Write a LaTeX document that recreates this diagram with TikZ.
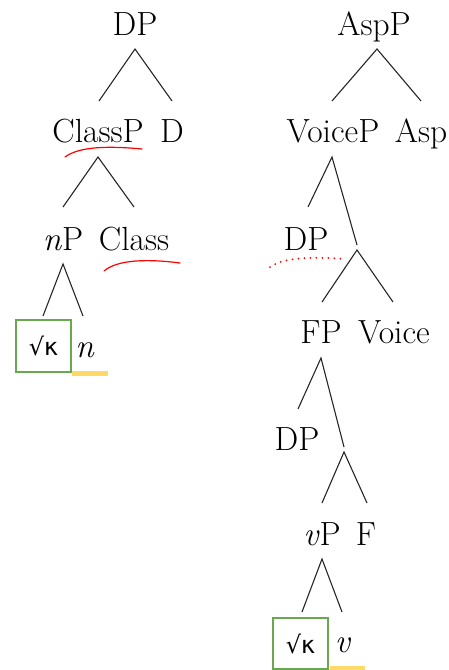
\documentclass[tikz,border=0pt]{standalone}
\usepackage{fontspec}
\newfontfamily\rootfont{DejaVu Sans}
\definecolor{boxgreen}{RGB}{106,168,79}
\definecolor{hlyellow}{RGB}{255,217,102}
\begin{document}
\begin{tikzpicture}[x=1pt,y=-1pt,
  lbl/.style={anchor=base,inner sep=0pt,font=\fontsize{33.5}{40}\selectfont},
  branch/.style={line width=1.1pt,black!85},
  rootbox/.style={draw=boxgreen,line width=1.2pt,rectangle,inner sep=0pt,
    minimum width=55pt,minimum height=52pt,font=\rootfont\fontsize{24}{28}\selectfont},
  mark red/.style={red,line width=1.2pt,line cap=round},
  dots red/.style={red,line width=2pt,line cap=round,dash pattern=on 0pt off 6pt},
  hl/.style={fill=hlyellow}]
\useasboundingbox (0,0) rectangle (449,670);

% ---- left tree: DP ----
\node[lbl] (dp) at (135,35) {DP};
\node[lbl] (classp) at (98,142) {ClassP};
\node[lbl] (d) at (172,142) {D};
\node[lbl] (np) at (63,250) {\textit{n}P};
\node[lbl] (class) at (134,250) {Class};
\node[rootbox] (rootL) at (43.5,346) {√κ};
\node[lbl] (n) at (85,357) {\textit{n}};

\coordinate (dpA) at (135,49);  \coordinate (dpL) at (99,101);  \coordinate (dpR) at (172,101);
\coordinate (clA) at (98,157);  \coordinate (clL) at (63,207);  \coordinate (clR) at (134,207);
\coordinate (npA) at (63,264);  \coordinate (npL) at (43,316);  \coordinate (npR) at (83,316);
\draw[branch] (dpL) -- (dpA) -- (dpR);
\draw[branch] (clL) -- (clA) -- (clR);
\draw[branch] (npL) -- (npA) -- (npR);

% ---- right tree: AspP ----
\node[lbl] (aspp) at (374,35) {AspP};
\node[lbl] (voicep) at (333,142) {VoiceP};
\node[lbl] (asp) at (421,142) {Asp};
\node[lbl] (dpa) at (306,250) {DP};
\node[lbl] (fp) at (321,343) {FP};
\node[lbl] (voice) at (394,343) {Voice};
\node[lbl] (dpb) at (297,450) {DP};
\node[lbl] (vp) at (322,545) {\textit{v}P};
\node[lbl] (f) at (366,545) {F};
\node[rootbox,minimum height=51pt] (rootR) at (300.5,643.5) {√κ};
\node[lbl] (v) at (343,652) {\textit{v}};

\coordinate (asA) at (377,49);  \coordinate (asL) at (332,101); \coordinate (asR) at (421,101);
\coordinate (vcA) at (332,157); \coordinate (vcL) at (308,207); \coordinate (vcR) at (357,245);
\coordinate (vbA) at (357,250); \coordinate (vbL) at (322,302); \coordinate (vbR) at (393,302);
\coordinate (fpA) at (321,358); \coordinate (fpL) at (298,409); \coordinate (fpR) at (344,447);
\coordinate (fbA) at (344,452); \coordinate (fbL) at (322,503); \coordinate (fbR) at (367,503);
\coordinate (vpA) at (322,559); \coordinate (vpL) at (302,612); \coordinate (vpR) at (342,612);
\draw[branch] (asL) -- (asA) -- (asR);
\draw[branch] (vcL) -- (vcA) -- (vcR);
\draw[branch] (vbL) -- (vbA) -- (vbR);
\draw[branch] (fpL) -- (fpA) -- (fpR);
\draw[branch] (fbL) -- (fbA) -- (fbR);
\draw[branch] (vpL) -- (vpA) -- (vpR);

% ---- annotations ----
\draw[mark red] (65,157) .. controls (80,146) and (110,146) .. (142,149);
\draw[mark red] (104,271) .. controls (118,259) and (150,259) .. (180,263);
\draw[dots red] (270,267) .. controls (285,256) and (320,257) .. (344,259);
\fill[hl] (72,371) rectangle (108,376);
\fill[hl] (330,665.5) rectangle (365,670);
\end{tikzpicture}
\end{document}
